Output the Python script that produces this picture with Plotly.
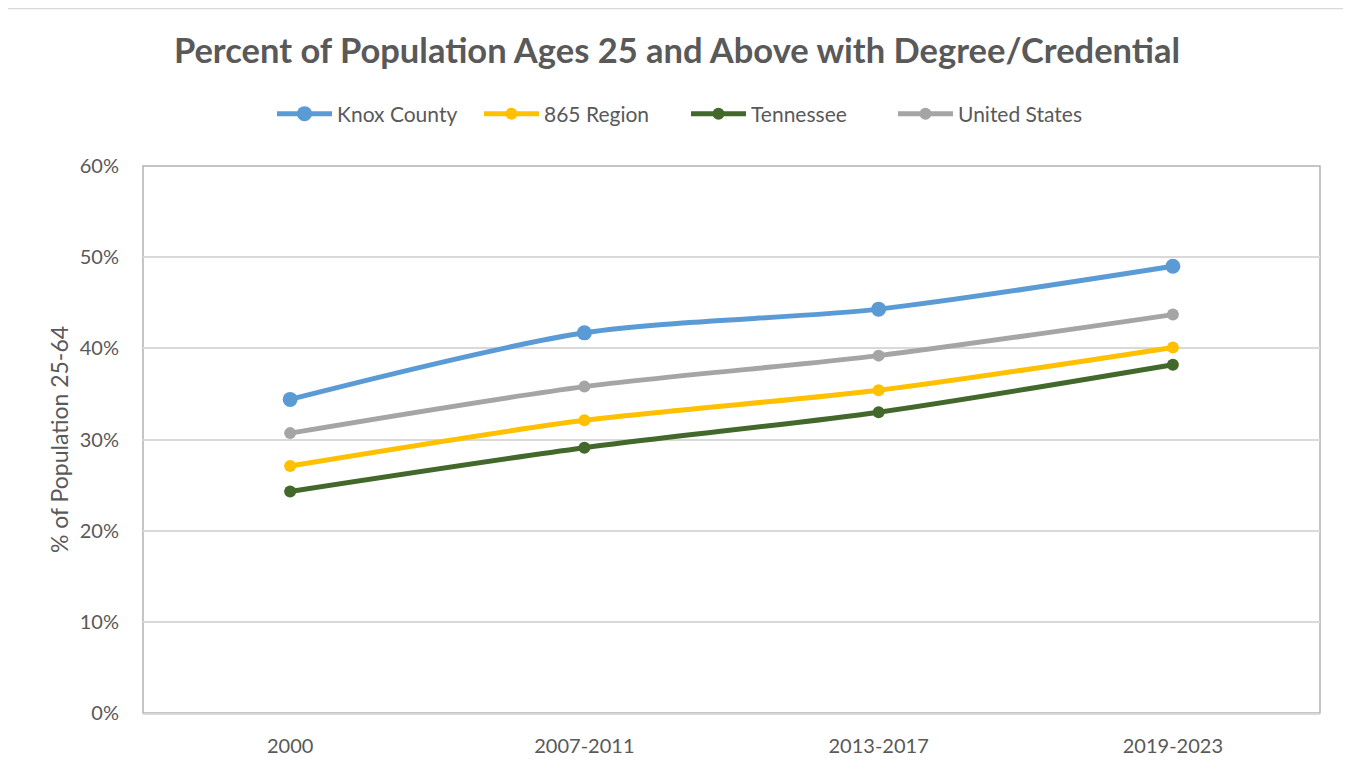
import plotly.graph_objects as go

periods = ["2000", "2007-2011", "2013-2017", "2019-2023"]
knox = [0.344, 0.417, 0.443, 0.490]
region865 = [0.271, 0.321, 0.354, 0.401]
tennessee = [0.243, 0.291, 0.330, 0.382]
united_states = [0.307, 0.358, 0.392, 0.437]

series = [
    ("Knox County", knox, "#5b9bd5", 15),
    ("865 Region", region865, "#ffc000", 12),
    ("Tennessee", tennessee, "#43682b", 12),
    ("United States", united_states, "#a5a5a5", 12),
]

FONT = "Lato"
GRAY = "#595959"

fig = go.Figure()
for name, vals, color, msize in series:
    fig.add_trace(go.Scatter(
        x=periods, y=vals, name=name, mode="lines+markers",
        line=dict(color=color, width=5, shape="spline", smoothing=0.8),
        marker=dict(color=color, size=msize),
    ))

# page body adds an 8px offset
OX, OY = 8, 8
W, H = 1351, 772
L, R, T, B = 143 - OX, 31 + OX, 166 - OY, 59 + OY
pw, ph = W - L - R, H - T - B

def px(x):
    return (x - OX - L) / pw

def py(y):
    return (H - B - (y - OY)) / ph

fig.update_layout(
    width=W, height=H,
    margin=dict(l=L, r=R, t=T, b=B),
    paper_bgcolor="white", plot_bgcolor="white",
    font=dict(family=FONT, color=GRAY, size=20),
    title=dict(text="<b>Percent of Population Ages 25 and Above with Degree/Credential</b>",
               x=px(677), xanchor="center", xref="paper",
               y=1 - (51 - OY) / H, yanchor="middle",
               font=dict(family=FONT, size=34.5, color=GRAY)),
    legend=dict(orientation="h", x=px(686), xanchor="center", y=py(114), yanchor="middle",
                font=dict(family=FONT, size=21, color=GRAY), itemwidth=55,
                entrywidth=137, entrywidthmode="pixels",
                traceorder="normal", bgcolor="rgba(0,0,0,0)"),
    showlegend=True,
    xaxis=dict(type="category", range=[-0.5, 3.5], showgrid=False,
               showline=True, linecolor="#d9d9d9", linewidth=2,
               ticks="outside", ticklen=14, tickcolor="rgba(0,0,0,0)",
               tickfont=dict(family=FONT, size=20, color=GRAY), fixedrange=True),
    yaxis=dict(range=[0, 0.6], dtick=0.1, tickformat=".0%",
               showgrid=True, gridcolor="#d9d9d9", gridwidth=1.5,
               zeroline=False, showline=False,
               ticks="outside", ticklen=19, tickcolor="rgba(0,0,0,0)",
               tickfont=dict(family=FONT, size=20, color=GRAY),
               title=dict(text="% of Population 25-64", standoff=4,
                          font=dict(family=FONT, size=23, color=GRAY)),
               fixedrange=True),
    shapes=[
        dict(type="rect", xref="paper", yref="paper", x0=0, x1=1, y0=0, y1=1,
             line=dict(color="#b3b3b3", width=1.5), layer="below"),
        dict(type="rect", xref="paper", yref="paper", x0=px(6), x1=px(1347), y0=py(800), y1=py(8.5),
             line=dict(color="#d9d9d9", width=1.5), layer="above"),
    ],
)

fig.write_html("out.html")
